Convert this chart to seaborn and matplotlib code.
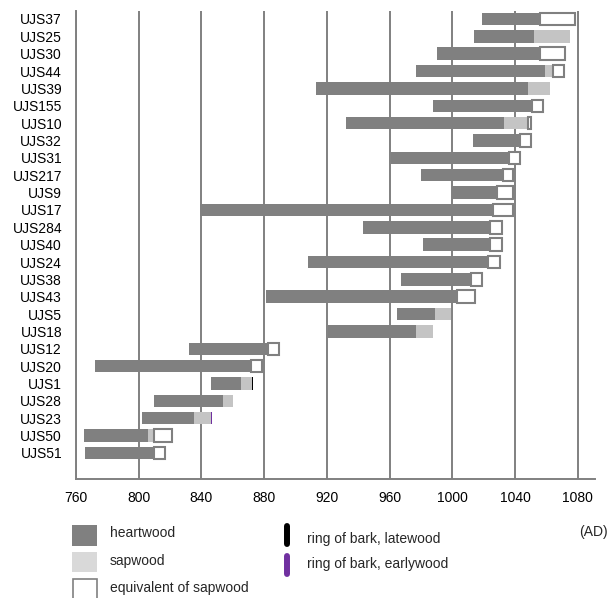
import numpy as np
import pandas as pd
import seaborn as sns
import matplotlib.pyplot as plt
from matplotlib.patches import Rectangle

sns.set_theme(style="white")
plt.rcParams['font.family'] = ['Liberation Sans', 'DejaVu Sans']

samples = ["UJS37", "UJS25", "UJS30", "UJS44", "UJS39", "UJS155", "UJS10", "UJS32",
           "UJS31", "UJS217", "UJS9", "UJS17", "UJS284", "UJS40", "UJS24", "UJS38",
           "UJS43", "UJS5", "UJS18", "UJS12", "UJS20", "UJS1", "UJS28", "UJS23",
           "UJS50", "UJS51"]
heart_start = [1019, 1014, 990, 977, 913, 988, 932, 1013, 961, 980, 1000, 839, 943,
               981, 908, 967, 881, 965, 921, 832, 772, 846, 810, 802, 765, 766]
heart_end = [1056, 1052, 1056, 1059, 1048, 1051, 1033, 1043, 1036, 1032.5, 1028.5, 1026,
             1024, 1024, 1023, 1012, 1003, 989, 977, 882.5, 871.5, 865, 854, 835, 806, 809.5]
sap_end = [None, 1075, None, 1064, 1062, None, 1048, None, None, None, None, None, None,
           None, None, None, None, 999, 988, None, None, 872, 860, 846, 810, None]
equiv_end = [1078, None, 1072, 1071, None, 1058, 1050.5, 1050.5, 1043, 1039, 1038.5, 1038.5,
             1031.5, 1031.5, 1030.5, 1019, 1014.5, None, None, 889.5, 878.5, None, None, None,
             821.5, 816.5]
bark = [None] * 21 + ["latewood", None, "earlywood", None, None]

df = pd.DataFrame({"sample": samples, "hs": heart_start, "he": heart_end,
                   "sap": sap_end, "eq": equiv_end, "bark": bark})
df["y"] = np.arange(len(df))

HEART = "#808080"
SAP = "#c4c4c4"
EDGE = "#808080"
H = 0.72

fig = plt.figure(figsize=(6.15, 5.98), dpi=100)
ax = fig.add_axes([76 / 615, 1 - 479 / 598, (595 - 76) / 615, (479 - 11) / 598])

ax.barh(df["y"], df["he"] - df["hs"], left=df["hs"], height=H, color=HEART, lw=0, zorder=2)

s = df.dropna(subset=["sap"])
ax.barh(s["y"], s["sap"] - s["he"], left=s["he"], height=H, color=SAP, lw=0, zorder=2)

e = df.dropna(subset=["eq"])
eq_left = e["sap"].fillna(e["he"])
ax.barh(e["y"], e["eq"] - eq_left, left=eq_left, height=H, facecolor="white",
        edgecolor=EDGE, linewidth=1.5, zorder=3)

for kind, col in [("latewood", "black"), ("earlywood", "#7030a0")]:
    b = df[df["bark"] == kind]
    ax.barh(b["y"], 0.9, left=b["sap"], height=H, color=col, lw=0, zorder=4)

ax.set_xlim(760, 1091)
ax.set_ylim(len(df) + 0.5, -0.46)
ax.set_xticks(range(760, 1081, 40))
ax.set_yticks(df["y"])
ax.set_yticklabels(df["sample"])
ax.grid(axis="x", color="#808080", linewidth=1.4)
ax.set_axisbelow(True)
sns.despine(ax=ax)
for side in ["left", "bottom"]:
    ax.spines[side].set_color("#808080")
    ax.spines[side].set_linewidth(1.4)
ax.tick_params(axis="x", length=0, pad=9, labelsize=10, colors="black")
ax.tick_params(axis="y", length=0, pad=10, labelsize=10, colors="black")

# legend drawn in pixel coordinates
lg = fig.add_axes([0, 0, 1, 1], zorder=-1)
lg.set_xlim(0, 615)
lg.set_ylim(598, 0)
lg.axis("off")
lg.add_patch(Rectangle((72, 525), 25, 21, color=HEART, lw=0))
lg.add_patch(Rectangle((72, 552), 25, 20, color="#d9d9d9", lw=0))
lg.add_patch(Rectangle((72.5, 579), 24, 24, facecolor="white", edgecolor=EDGE, lw=1.2))
lg.text(110, 533, "heartwood", fontsize=10, va="center")
lg.text(110, 561, "sapwood", fontsize=10, va="center")
lg.text(110, 588, "equivalent of sapwood", fontsize=10, va="center")
lg.plot([287, 287], [526, 544], color="black", lw=4.3, solid_capstyle="round")
lg.plot([287, 287], [556, 574], color="#7030a0", lw=4.3, solid_capstyle="round")
lg.text(307, 539, "ring of bark, latewood", fontsize=10, va="center")
lg.text(307, 564, "ring of bark, earlywood", fontsize=10, va="center")
lg.text(593, 532, "(AD)", fontsize=10, va="center", ha="center")

fig.savefig("out.png", dpi=100)
